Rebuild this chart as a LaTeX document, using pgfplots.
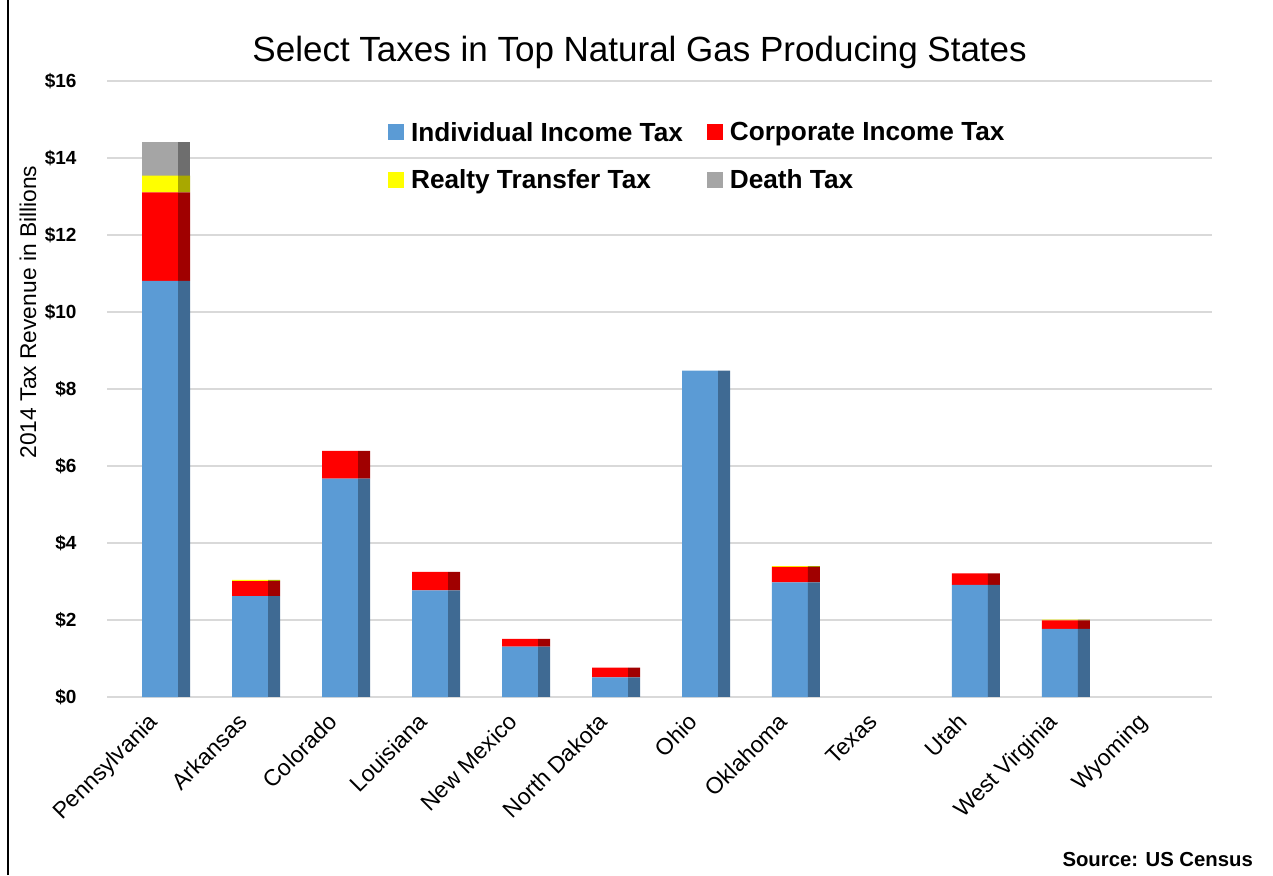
\documentclass[border=0pt]{standalone}
\usepackage{fontspec}
\setmainfont{Liberation Sans}
\usepackage{pgfplots}
\usepackage{pgfplotstable}
\pgfplotsset{compat=1.18}
\definecolor{cInd}{HTML}{5B9BD5}
\definecolor{cIndD}{HTML}{3F6A93}
\definecolor{cCorp}{HTML}{FF0000}
\definecolor{cCorpD}{HTML}{A00000}
\definecolor{cReal}{HTML}{FFFF00}
\definecolor{cRealD}{HTML}{A8A800}
\definecolor{cDeath}{HTML}{A5A5A5}
\definecolor{cDeathD}{HTML}{6E6E6E}
\definecolor{cGrid}{HTML}{D9D9D9}

\pgfplotstableread{
x ind corp real death
0 10.81 2.30 0.43 0.87
1 2.62 0.39 0.03 0
2 5.67 0.72 0 0
3 2.77 0.48 0 0
4 1.31 0.20 0 0
5 0.51 0.25 0 0
6 8.48 0 0 0
7 2.98 0.40 0.02 0
8 0 0 0 0
9 2.91 0.30 0 0
10 1.77 0.22 0.02 0
11 0 0 0 0
}\datatable

\pgfplotsset{
  base/.style={
    scale only axis, width=1105pt, height=616pt,
    at={(107pt,178pt)}, anchor=south west,
    xmin=-0.59, xmax=11.69, ymin=0, ymax=16,
    ybar stacked,
  }
}

\begin{document}
\begin{tikzpicture}
\begin{axis}[base,
  bar width=36pt, bar shift=0pt,
  axis line style={draw=none}, tick style={draw=none},
  ymajorgrids, grid style={cGrid, line width=2pt},
  ytick={0,2,...,16},
  yticklabel={\$\pgfmathprintnumber{\tick}},
  /pgf/number format/assume math mode=true,
  yticklabel style={font=\bfseries\fontsize{19}{21}\selectfont, xshift=-27pt},
  xtick={0,...,11},
  xticklabels={Pennsylvania,Arkansas,Colorado,Louisiana,New Mexico,North Dakota,Ohio,Oklahoma,Texas,Utah,West Virginia,Wyoming},
  xticklabel style={xshift=-13pt, yshift=-10pt, rotate=45, anchor=north east, font=\fontsize{23}{26}\selectfont},
  title={Select Taxes in Top Natural Gas Producing States},
  title style={at={(axis description cs:0.482,1.0374)}, anchor=center, font=\fontsize{35}{40}\selectfont},
  ylabel={2014 Tax Revenue in Billions},
  ylabel style={at={(axis description cs:-0.0715,0.625)}, anchor=center, font=\fontsize{22.8}{26}\selectfont},
  legend style={at={(rel axis cs:0.2515,0.94)}, anchor=north west, draw=none, fill=none,
    font=\bfseries\fontsize{26.2}{30}\selectfont,
    /tikz/every odd column/.append style={column sep=5pt},
    /tikz/every even column/.append style={column sep=22pt}, row sep=23pt},
  legend cell align=left,
  legend columns=2,
  legend image code/.code={\fill[#1] (0pt,-8pt) rectangle (16pt,8pt);},
]
\addplot[fill=cInd, draw=none] table[x=x, y=ind] {\datatable};
\addplot[fill=cCorp, draw=none] table[x=x, y=corp] {\datatable};
\addplot[fill=cReal, draw=none] table[x=x, y=real] {\datatable};
\addplot[fill=cDeath, draw=none] table[x=x, y=death] {\datatable};
\legend{Individual Income Tax, Corporate Income Tax, Realty Transfer Tax, Death Tax}
\end{axis}
\begin{axis}[base, hide axis, bar width=12pt, bar shift=24pt]
\addplot[fill=cIndD, draw=none] table[x=x, y=ind] {\datatable};
\addplot[fill=cCorpD, draw=none] table[x=x, y=corp] {\datatable};
\addplot[fill=cRealD, draw=none] table[x=x, y=real] {\datatable};
\addplot[fill=cDeathD, draw=none] table[x=x, y=death] {\datatable};
\end{axis}
\node[anchor=base east, inner sep=0pt, font=\bfseries\fontsize{20.3}{23}\selectfont] at (1253pt,9pt) {Source: US Census};
\draw[line width=2pt] (8pt,0pt) -- (8pt,875pt);
\pgfresetboundingbox
\path[use as bounding box] (0pt,0pt) rectangle (1273pt,875pt);
\end{tikzpicture}
\end{document}
